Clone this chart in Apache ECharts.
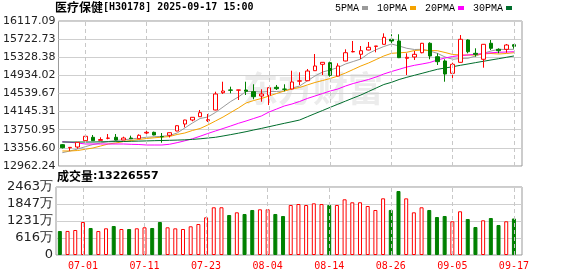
<!DOCTYPE html>
<html><head><meta charset="utf-8">
<script src="https://cdn.jsdelivr.net/npm/echarts@6/dist/echarts.min.js"></script>
<style>html,body{margin:0;padding:0;background:#fff}#c{width:578px;height:276px}</style>
</head><body><div id="c"></div>
<script>
const dates = ['06-26','06-27','06-30','07-01','07-02','07-03','07-04','07-07','07-08','07-09','07-10','07-11','07-14','07-15','07-16','07-17','07-18','07-21','07-22','07-23','07-24','07-25','07-28','07-29','07-30','07-31','08-01','08-04','08-05','08-06','08-07','08-08','08-11','08-12','08-13','08-14','08-15','08-18','08-19','08-20','08-21','08-22','08-25','08-26','08-27','08-28','08-29','09-01','09-02','09-03','09-04','09-05','09-08','09-09','09-10','09-11','09-12','09-15','09-16','09-17'];
const xTickLabels = ['07-01','07-11','07-23','08-04','08-14','08-26','09-05','09-17'];
const opens  = [13426,13358,13375,13513,13587,13520,13565,13587,13528,13571,13556,13680,13695,13604,13630,13724,13876,13963,14035,13948,14181,14557,14617,14612,14616,14579,14485,14500,14675,14636,14638,14808,14818,15036,15175,15210,14920,15247,15446,15393,15486,15565,15610,15719,15682,15305,15334,15427,15632,15340,15247,14979,15218,15704,15414,15284,15632,15501,15501,15601];
const closes = [13360,13368,13477,13609,13513,13538,13570,13528,13571,13556,13630,13695,13637,13597,13687,13839,13963,14022,14122,13969,14529,14594,14610,14617,14588,14470,14529,14666,14644,14631,14790,14815,15029,15138,15218,14936,15138,15427,15453,15471,15545,15573,15762,15682,15319,15327,15392,15632,15356,15232,14964,15175,15719,15449,15392,15610,15523,15471,15595,15566];
const lows   = [13343,13293,13339,13505,13505,13515,13543,13520,13525,13550,13550,13630,13630,13469,13583,13718,13804,13935,14030,13920,14175,14529,14544,14398,14507,14413,14361,14289,14616,14588,14630,14725,14810,15030,14942,14905,14915,15240,15436,15290,15480,15436,15605,15632,15310,14942,15269,15414,15284,15160,14796,14812,15210,15414,15340,15101,15486,15414,15427,15514];
const highs  = [13441,13372,13480,13612,13637,13587,13658,13658,13600,13622,13652,13739,13710,13680,13690,13845,13968,14025,14181,14094,14579,14796,14688,14620,14796,14740,14631,14670,14725,14740,15036,15001,15073,15399,15222,15232,15197,15501,15682,15573,15660,15575,15849,15828,15828,15414,15464,15640,15654,15414,15284,15210,15812,15719,15523,15615,15704,15523,15617,15617];
const ma5  = [13252,13289,13332,13382,13430,13463,13495,13517,13532,13550,13571,13587,13598,13608,13626,13680,13789,13898,13996,14028,14126,14246,14366,14464,14583,14583,14572,14583,14583,14594,14653,14703,14812,14920,15007,15051,15105,15182,15236,15290,15410,15493,15562,15617,15573,15523,15497,15501,15464,15414,15334,15284,15301,15306,15356,15414,15464,15501,15497,15501];
const ma10 = [13289,13289,13299,13326,13354,13397,13441,13463,13495,13517,13539,13561,13576,13589,13604,13648,13680,13735,13778,13854,13941,14028,14126,14224,14333,14387,14431,14485,14540,14594,14638,14670,14725,14779,14822,14866,14920,14986,15062,15138,15203,15279,15356,15414,15425,15436,15475,15486,15475,15471,15432,15388,15377,15377,15377,15403,15410,15399,15410,15427];
const ma20 = [13491,13478,13463,13441,13441,13441,13441,13441,13441,13434,13430,13419,13419,13419,13435,13470,13510,13555,13610,13669,13724,13778,13833,13891,13941,13996,14050,14137,14202,14268,14311,14366,14431,14485,14540,14594,14638,14703,14757,14801,14844,14899,14964,15018,15066,15116,15153,15182,15214,15269,15312,15345,15366,15377,15392,15410,15425,15436,15442,15449];
const ma30 = [13484,13484,13484,13484,13484,13489,13491,13493,13495,13500,13504,13508,13513,13517,13521,13526,13532,13541,13554,13571,13587,13615,13645,13676,13709,13746,13780,13817,13854,13891,13926,13963,14033,14102,14170,14239,14307,14374,14442,14507,14583,14659,14735,14783,14844,14892,14936,14979,15023,15066,15094,15123,15153,15182,15212,15240,15269,15297,15327,15356];
const volumes = [8690000,8710000,9050000,11950000,9780000,8680000,9670000,10500000,9420000,9410000,9670000,10030000,9780000,11950000,10030000,9660000,9420000,10400000,11230000,13650000,17280000,17290000,14490000,15460000,14850000,16300000,16550000,16560000,14850000,14130000,18110000,18470000,18100000,18720000,18460000,18110000,18120000,20170000,19090000,19100000,17750000,16300000,20530000,16310000,23180000,20520000,15460000,17280000,16300000,13760000,14130000,12200000,15830000,13040000,10140000,12570000,13400000,10870000,12210000,13226557];
const volUp = [0,1,1,1,0,1,1,0,1,0, 1,1,0,0,1,1,1,1,1,1, 1,1,0,1,0,0,1,1,0,0, 1,1,1,1,1,0,1,1,1,1, 1,1,1,0,0,1,1,1,0,0, 0,1,1,0,0,1,0,0,1,0];
const priceTicks = ['12962.24','13356.60','13750.95','14145.31','14539.67','14934.02','15328.38','15722.73','16117.09'];
const volTicks = ['0','616万','1231万','1847万','2463万'];
const volMax = 24629000;
const maNames = ['5PMA','10PMA','20PMA','30PMA'];
const maColors = ['#9a9a9a','#f5a300','#ff00ff','#006d2c'];

const RED = '#ff0000', GREEN = '#008000';
const tickIdx = xTickLabels.map(l => dates.indexOf(l));
const pMin = parseFloat(priceTicks[0]), pMax = parseFloat(priceTicks[priceTicks.length - 1]);
const chart = echarts.init(document.getElementById('c'), null, {renderer: 'canvas'});
const dashLines = {
  silent: true, symbol: 'none', label: {show: false}, animation: false,
  lineStyle: {color: '#c8c8c8', type: [4, 3], width: 1},
  data: tickIdx.map(i => ({xAxis: i}))
};
const xBase = {type: 'value', min: -0.5, max: 60.05, axisLine: {show: false}, axisTick: {show: false}, splitLine: {show: false}};
const mas = [ma5, ma10, ma20, ma30];
const option = {
  animation: false,
  backgroundColor: '#fff',
  title: [
    {text: '{a|医疗保健}{b|[H30178] 2025-09-17 15:00}', left: 55, top: 1, padding: 0,
     textStyle: {rich: {a: {fontFamily: 'Noto Sans CJK SC', fontSize: 12, color: '#000'}, b: {fontFamily: 'DejaVu Sans Mono', fontSize: 10, color: '#000'}}}},
    {text: '{a|成交量}{b|:' + volumes[volumes.length - 1] + '}', left: 57, top: 170, padding: 0,
     textStyle: {rich: {a: {fontFamily: 'Noto Sans CJK SC', fontSize: 12, color: '#000'}, b: {fontFamily: 'DejaVu Sans', fontSize: 11, color: '#000'}}}}
  ],
  legend: {
    data: maNames, right: 66, top: 3, padding: 0, itemWidth: 6, itemHeight: 4, itemGap: 9, align: 'right', icon: 'rect',
    textStyle: {fontFamily: 'Liberation Mono', fontSize: 10, color: '#000', padding: [0, -2, 0, 0]}
  },
  graphic: [{type: 'text', left: 243, top: 71, silent: true, z: 0,
    style: {text: '东方财富', font: 'bold 35px "Noto Sans CJK SC"', fill: '#ececec'}}],
  grid: [
    {left: 56, right: 56, top: 21, height: 145, show: true, borderColor: '#999', borderWidth: 1},
    {left: 56, right: 56, top: 187, height: 68, show: true, borderColor: '#999', borderWidth: 1}
  ],
  xAxis: [
    Object.assign({gridIndex: 0, axisLabel: {show: false}}, xBase),
    Object.assign({gridIndex: 1, axisLabel: {show: true, customValues: tickIdx, formatter: v => dates[Math.round(v)],
      color: RED, fontFamily: 'DejaVu Sans Mono', fontSize: 10, margin: 6}}, xBase)
  ],
  yAxis: [
    {gridIndex: 0, type: 'value', min: pMin, max: pMax, interval: (pMax - pMin) / (priceTicks.length - 1),
     axisLine: {show: false}, axisTick: {show: false},
     splitLine: {lineStyle: {color: '#cfcfcf', width: 1}},
     axisLabel: {formatter: (v, i) => priceTicks[i], fontFamily: 'DejaVu Sans', fontSize: 11, color: '#222', margin: 3}},
    {gridIndex: 1, type: 'value', min: 0, max: volMax, interval: volMax / (volTicks.length - 1),
     axisLine: {show: false}, axisTick: {show: false},
     splitLine: {lineStyle: {color: '#cfcfcf', width: 1}},
     axisLabel: {formatter: (v, i) => volTicks[i], fontFamily: 'DejaVu Sans', fontSize: 13, color: '#222', margin: 3}}
  ],
  series: [
    {type: 'candlestick', name: 'K', xAxisIndex: 0, yAxisIndex: 0, barWidth: 4, z: 3,
     data: dates.map((d, i) => [i, opens[i], closes[i], lows[i], highs[i]]),
     itemStyle: {color: '#fff', color0: GREEN, borderColor: RED, borderColor0: GREEN, borderWidth: 1}},
    ...maNames.map((n, k) => ({
      type: 'line', name: n, xAxisIndex: 0, yAxisIndex: 0, showSymbol: false, symbol: 'none', z: 2,
      data: mas[k].map((v, i) => [i, v]), color: maColors[k],
      lineStyle: {width: 1, color: maColors[k]},
      markLine: k === 3 ? dashLines : undefined
    })),
    {type: 'bar', name: 'VOL', xAxisIndex: 1, yAxisIndex: 1, barWidth: 4,
     data: volumes.map((v, i) => ({value: [i, v], itemStyle: volUp[i]
        ? {color: '#fff', borderColor: RED, borderWidth: 1}
        : {color: GREEN, borderColor: GREEN, borderWidth: 1}})),
     markLine: dashLines}
  ]
};
chart.setOption(option);
</script></body></html>
